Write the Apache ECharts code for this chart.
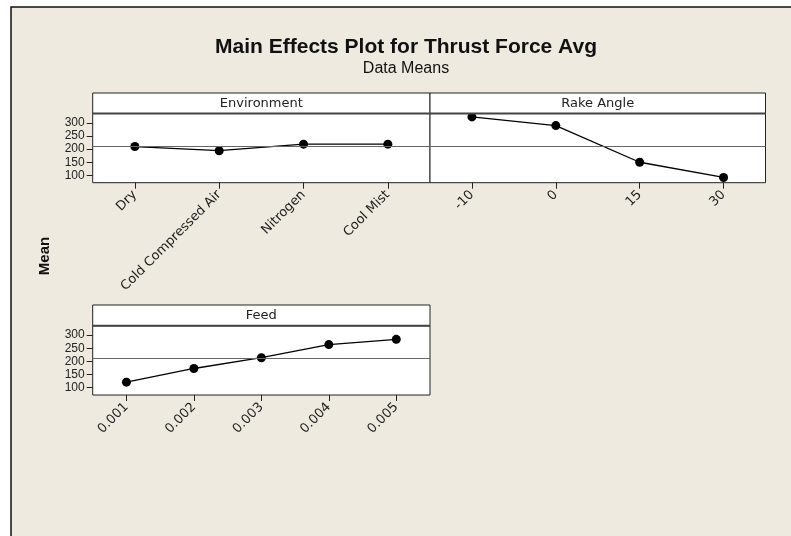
<!DOCTYPE html>
<html>
<head>
<meta charset="utf-8">
<script src="https://cdn.jsdelivr.net/npm/echarts@6/dist/echarts.min.js"></script>
<style>
html,body{margin:0;padding:0;background:#ffffff;}
#chart{width:791px;height:536px;}
</style>
</head>
<body>
<div id="chart"></div>
<script>
// ---- data ----
const envCategories = ['Dry', 'Cold Compressed Air', 'Nitrogen', 'Cool Mist'];
const envMeans = [210, 194, 219, 219];
const rakeCategories = ['-10', '0', '15', '30'];
const rakeMeans = [323, 290, 150, 92];
const feedCategories = ['0.001', '0.002', '0.003', '0.004', '0.005'];
const feedMeans = [121, 173, 214, 264, 284];
const grandMean = 211;
const yTickValues = [100, 150, 200, 250, 300];
const panelTitles = ['Environment', 'Rake Angle', 'Feed'];

// ---- layout ----
const BG = '#EEEAE0';
const FRAME = '#222';
const panels = [
  { left: 92.7, top: 113.5, width: 337.3, height: 69.2, stripH: 20.5 },
  { left: 430, top: 113.5, width: 335.5, height: 69.2, stripH: 20.5 },
  { left: 92.7, top: 325.7, width: 337.3, height: 69.3, stripH: 20.7 }
];
const cats = [envCategories, rakeCategories, feedCategories];
const vals = [envMeans, rakeMeans, feedMeans];
const Y_MIN = 72, Y_MAX = 336;

const chart = echarts.init(document.getElementById('chart'), null, { renderer: 'canvas' });

const grids = panels.map(p => ({
  left: p.left, top: p.top, width: p.width, height: p.height,
  show: true, backgroundColor: '#fff', borderColor: FRAME, borderWidth: 1,
  containLabel: false
}));

const xAxes = panels.map((p, i) => ({
  type: 'category', gridIndex: i, data: cats[i], boundaryGap: true,
  axisLine: { show: false },
  axisTick: { show: true, alignWithLabel: true, length: 6, lineStyle: { color: FRAME, width: 1 } },
  axisLabel: { rotate: 45, margin: 10, fontFamily: 'DejaVu Sans', fontSize: 13, color: '#222', interval: 0 },
  splitLine: { show: false }
}));

const yAxes = panels.map((p, i) => ({
  type: 'value', gridIndex: i, min: Y_MIN, max: Y_MAX,
  axisLine: { show: false },
  axisTick: { show: i !== 1, length: 6, customValues: yTickValues, lineStyle: { color: FRAME, width: 1 } },
  axisLabel: { show: i !== 1, customValues: yTickValues, margin: 8, fontFamily: 'Liberation Sans', fontSize: 12, color: '#222' },
  splitLine: { show: false }
}));

const series = panels.map((p, i) => ({
  type: 'line', xAxisIndex: i, yAxisIndex: i, data: vals[i],
  symbol: 'circle', symbolSize: 9, showSymbol: true,
  itemStyle: { color: '#000' }, lineStyle: { color: '#000', width: 1.3 },
  animation: false, silent: true,
  markLine: {
    silent: true, symbol: 'none', animation: false,
    label: { show: false },
    lineStyle: { color: '#666', type: 'solid', width: 1 },
    data: [{ yAxis: grandMean }]
  }
}));

const graphics = [
  { type: 'rect', shape: { x: 11, y: 7, width: 800, height: 540 }, style: { fill: BG, stroke: '#111', lineWidth: 1.5 }, z: -10 },
  { type: 'text', x: 406, y: 47, style: { text: 'Main Effects Plot for Thrust Force Avg', font: 'bold 21px "Liberation Sans"', fill: '#111', textAlign: 'center', textVerticalAlign: 'middle' } },
  { type: 'text', x: 406, y: 69, style: { text: 'Data Means', font: '16px "Liberation Sans"', fill: '#111', textAlign: 'center', textVerticalAlign: 'middle' } },
  { type: 'text', x: 45, y: 256, rotation: Math.PI / 2, style: { text: 'Mean', font: 'bold 15px "Liberation Sans"', fill: '#111', textAlign: 'center', textVerticalAlign: 'middle' } }
];
panels.forEach((p, i) => {
  graphics.push({ type: 'rect', shape: { x: p.left, y: p.top - p.stripH, width: p.width, height: p.stripH }, style: { fill: '#fff', stroke: FRAME, lineWidth: 1 }, z: 5 });
  graphics.push({ type: 'line', shape: { x1: p.left, y1: p.top, x2: p.left + p.width, y2: p.top }, style: { stroke: '#444', lineWidth: 2 }, z: 6 });
  graphics.push({ type: 'text', x: p.left + p.width / 2, y: p.top - p.stripH / 2, style: { text: panelTitles[i], font: '13px "DejaVu Sans"', fill: '#222', textAlign: 'center', textVerticalAlign: 'middle' }, z: 7 });
});

chart.setOption({
  animation: false,
  backgroundColor: '#fff',
  grid: grids,
  xAxis: xAxes,
  yAxis: yAxes,
  series: series,
  graphic: graphics
});
</script>
</body>
</html>
